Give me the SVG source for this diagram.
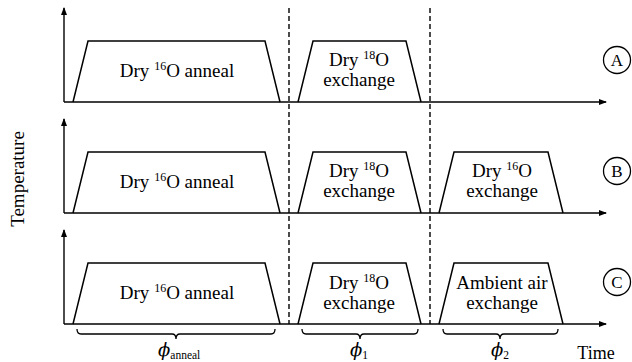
<svg xmlns="http://www.w3.org/2000/svg" width="632" height="362" viewBox="0 0 632 362">
<style>
.ax{stroke:#000;stroke-width:1.4;fill:none}
.tr{stroke:#000;stroke-width:1.5;fill:none;stroke-linejoin:miter}
.ds{stroke:#000;stroke-width:1.4;stroke-dasharray:5,3;fill:none}
.br{stroke:#000;stroke-width:1.3;fill:none}
text{font-family:"Liberation Serif","DejaVu Serif",serif;fill:#000}
.t{font-size:19px;text-anchor:middle}
.sup{font-size:12px}
.c{stroke:#000;stroke-width:1.3;fill:#fff}
.ph{font-family:"DejaVu Serif","Liberation Serif",serif;font-style:italic;font-size:18px}
.sub{font-size:11.5px}
</style>
<defs>
<marker id="arr" viewBox="0 0 8 6" refX="7" refY="3" markerWidth="8" markerHeight="6" markerUnits="userSpaceOnUse" orient="auto">
<path d="M0,0 L8,3 L0,6 Z" fill="#000"/>
</marker>
</defs>
<g id="connectors">
<path class="ax" d="M64,102 V8" marker-end="url(#arr)"/>
<path class="ax" d="M64,102 H606" marker-end="url(#arr)"/>
<path class="ax" d="M64,213 V119" marker-end="url(#arr)"/>
<path class="ax" d="M64,213 H606" marker-end="url(#arr)"/>
<path class="ax" d="M64,324 V230" marker-end="url(#arr)"/>
<path class="ax" d="M64,324 H606" marker-end="url(#arr)"/>
<path class="ds" d="M289,8 V324"/>
<path class="ds" d="M430,8 V324"/>
<path class="br" d="M77,329 Q77,334 81,334 H172 Q176,334 176,339 Q176,334 180,334 H271 Q275,334 275,329"/>
<path class="br" d="M302,329 Q302,334 306,334 H356 Q360,334 360,339 Q360,334 364,334 H414 Q418,334 418,329"/>
<path class="br" d="M443,329 Q443,334 447,334 H496 Q500,334 500,339 Q500,334 504,334 H554 Q558,334 558,329"/>
</g>
<g id="A-anneal">
<polyline class="tr" points="73,102 88,41 265,41 280,102"/>
<text class="t" x="177" y="77">Dry <tspan class="sup" dy="-7">16</tspan><tspan dy="7">O anneal</tspan></text>
</g>
<g id="A-exchange18">
<polyline class="tr" points="298,102 313,41 406,41 421,102"/>
<text class="t" x="359" y="66">Dry <tspan class="sup" dy="-7">18</tspan><tspan dy="7">O</tspan></text>
<text class="t" x="359" y="86">exchange</text>
</g>
<g id="A-label">
<circle class="c" cx="617" cy="60" r="13.5"/>
<text class="t" x="617" y="66" style="font-size:17px">A</text>
</g>
<g id="B-anneal">
<polyline class="tr" points="73,213 88,152 265,152 280,213"/>
<text class="t" x="177" y="188">Dry <tspan class="sup" dy="-7">16</tspan><tspan dy="7">O anneal</tspan></text>
</g>
<g id="B-exchange18">
<polyline class="tr" points="298,213 313,152 406,152 421,213"/>
<text class="t" x="359" y="177">Dry <tspan class="sup" dy="-7">18</tspan><tspan dy="7">O</tspan></text>
<text class="t" x="359" y="197">exchange</text>
</g>
<g id="B-exchange16">
<polyline class="tr" points="439,213 454,152 548,152 563,213"/>
<text class="t" x="502" y="177">Dry <tspan class="sup" dy="-7">16</tspan><tspan dy="7">O</tspan></text>
<text class="t" x="502" y="197">exchange</text>
</g>
<g id="B-label">
<circle class="c" cx="617" cy="171" r="13.5"/>
<text class="t" x="617" y="177" style="font-size:17px">B</text>
</g>
<g id="C-anneal">
<polyline class="tr" points="73,324 88,263 265,263 280,324"/>
<text class="t" x="177" y="299">Dry <tspan class="sup" dy="-7">16</tspan><tspan dy="7">O anneal</tspan></text>
</g>
<g id="C-exchange18">
<polyline class="tr" points="298,324 313,263 406,263 421,324"/>
<text class="t" x="359" y="289">Dry <tspan class="sup" dy="-7">18</tspan><tspan dy="7">O</tspan></text>
<text class="t" x="359" y="309">exchange</text>
</g>
<g id="C-ambient">
<polyline class="tr" points="439,324 454,263 548,263 563,324"/>
<text class="t" x="502" y="289">Ambient air</text>
<text class="t" x="502" y="309">exchange</text>
</g>
<g id="C-label">
<circle class="c" cx="617" cy="282" r="13.5"/>
<text class="t" x="617" y="288" style="font-size:17px">C</text>
</g>
<g id="labels">
<text class="t" transform="translate(24,179) rotate(-90)">Temperature</text>
<text class="t" x="596" y="359" style="font-size:18px">Time</text>
<text x="158" y="356"><tspan class="ph">ϕ</tspan><tspan class="sub" dy="3">anneal</tspan></text>
<text x="350" y="356"><tspan class="ph">ϕ</tspan><tspan class="sub" dy="3">1</tspan></text>
<text x="491" y="356"><tspan class="ph">ϕ</tspan><tspan class="sub" dy="3">2</tspan></text>
</g>
</svg>
